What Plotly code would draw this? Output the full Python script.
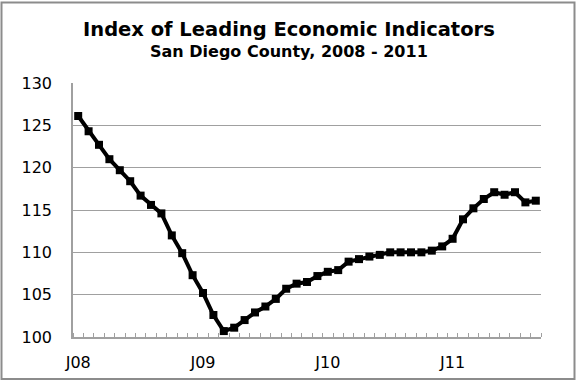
import plotly.graph_objects as go

# Monthly Index of Leading Economic Indicators, Jan 2008 - Sep 2011
month_letters = ["J", "F", "M", "A", "M", "J", "J", "A", "S", "O", "N", "D"]
years = ["08", "09", "10", "11"]
months = [m + y for y in years for m in month_letters][:45]

values = [126.1, 124.3, 122.7, 121.0, 119.7, 118.4, 116.7, 115.6, 114.6, 112.0,
          109.9, 107.3, 105.2, 102.6, 100.7, 101.1, 102.0, 102.9, 103.6, 104.5,
          105.7, 106.3, 106.5, 107.2, 107.7, 107.9, 108.9, 109.2, 109.5, 109.7,
          110.0, 110.0, 110.0, 110.0, 110.2, 110.7, 111.6, 113.9, 115.2, 116.3,
          117.1, 116.8, 117.1, 115.9, 116.1]

x_idx = list(range(len(values)))
label_idx = [i for i in x_idx if i % 12 == 0]
label_text = [months[i] for i in label_idx]

y_ticks = [100, 105, 110, 115, 120, 125, 130]

fig = go.Figure()
fig.add_trace(go.Scatter(
    x=x_idx, y=values, mode="lines+markers",
    line=dict(color="black", width=4),
    marker=dict(symbol="square", size=8, color="black"),
    hoverinfo="skip", showlegend=False,
))

GRID = "#a0a0a0"
FONT = "DejaVu Sans"

L, R, T, B = 73, 35, 83, 44
W, H = 576, 384
pw, ph = W - L - R, H - T - B

fig.update_layout(
    width=W, height=H,
    margin=dict(l=L, r=R, t=T, b=B),
    paper_bgcolor="white", plot_bgcolor="white",
    font=dict(family=FONT, color="black"),
    annotations=[
        dict(text="<b>Index of Leading Economic Indicators</b>", x=(289 - L) / pw, xref="paper",
             y=1 + (T - 28.5) / ph, yref="paper", showarrow=False, xanchor="center",
             yanchor="middle", font=dict(family=FONT, size=19.5, color="black")),
        dict(text="<b>San Diego County, 2008 - 2011</b>", x=(289 - L) / pw, xref="paper",
             y=1 + (T - 51) / ph, yref="paper", showarrow=False, xanchor="center",
             yanchor="middle", font=dict(family=FONT, size=16, color="black")),
    ],
    shapes=[
        dict(type="rect", xref="paper", yref="paper",
             x0=(1.5 - L) / pw, x1=(W - 1.5 - L) / pw,
             y0=-(B - 1.5) / ph, y1=1 + (T - 1.5) / ph,
             line=dict(color="#8c8c8c", width=2), fillcolor="rgba(0,0,0,0)", layer="below"),
    ],
)
fig.update_xaxes(
    range=[-0.5, len(values) - 0.5],
    tickmode="array", tickvals=label_idx, ticktext=label_text,
    ticks="", showgrid=False, zeroline=False,
    showline=True, linecolor=GRID, linewidth=1.5,
    tickfont=dict(family=FONT, size=16, color="black"),
    ticklabelstandoff=10,
    minor=dict(tickmode="array", tickvals=[i - 0.5 for i in range(len(values) + 1)],
               ticks="inside", ticklen=4, tickcolor=GRID, tickwidth=1, showgrid=False),
)
fig.update_yaxes(
    range=[100, 130], tickmode="array", tickvals=y_ticks,
    showgrid=True, gridcolor=GRID, gridwidth=1, zeroline=False,
    showline=True, linecolor=GRID, linewidth=1.5, ticks="",
    tickfont=dict(family=FONT, size=16, color="black"),
    ticklabelstandoff=16,
)

fig.write_html("out.html", config={"displayModeBar": False},
               post_script="document.body.style.margin='0';")
